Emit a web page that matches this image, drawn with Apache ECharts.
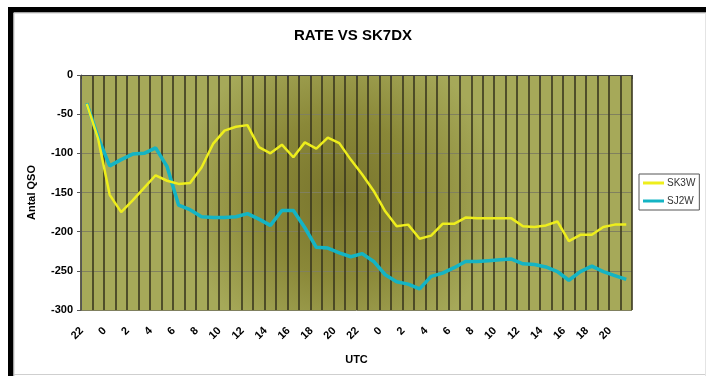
<!DOCTYPE html>
<html>
<head>
<meta charset="utf-8">
<script src="https://cdn.jsdelivr.net/npm/echarts@6/dist/echarts.min.js"></script>
<style>
  html, body { margin: 0; padding: 0; background: #fff; }
  #chart { width: 706px; height: 376px; }
</style>
</head>
<body>
<div id="chart"></div>
<script>
// Hour of day (UTC), one entry per hourly sample over two days
const hours = ['22','23','0','1','2','3','4','5','6','7','8','9','10','11','12','13','14','15','16','17','18','19','20','21',
               '22','23','0','1','2','3','4','5','6','7','8','9','10','11','12','13','14','15','16','17','18','19','20','21'];

// Cumulative QSO difference against SK7DX
const sk3w = [-37, -82, -153, -175, -160, -144, -128, -135, -139, -138, -118, -88, -71, -66, -64,
              -92, -100, -89, -105, -86, -94, -80, -87, -108, -127, -148, -174, -193, -191, -209, -205, -190, -190,
              -182, -183, -183, -183, -183, -193, -194, -192, -187, -212, -204, -204, -194, -191, -191];
const sj2w = [-36, -80, -116, -108, -101, -100, -93, -117, -166, -172, -181, -182, -182, -181, -177, -184, -192,
              -173, -173, -195, -220, -221, -227, -232, -228, -238, -255, -264, -267, -273, -257, -253, -246,
              -238, -238, -237, -236, -235, -241, -242, -245, -251, -262, -251, -244, -251, -256, -261];

const yTicks = { min: -300, max: 0, step: 50 };

const chart = echarts.init(document.getElementById('chart'), null, { renderer: 'canvas' });

const font = 'Liberation Sans, Arial, sans-serif';

chart.setOption({
  animation: false,
  backgroundColor: '#ffffff',
  textStyle: { fontFamily: font },
  title: {
    text: 'RATE VS SK7DX',
    left: 'center',
    top: 23,
    textStyle: { fontSize: 15, fontWeight: 'bold', color: '#000', fontFamily: font }
  },
  legend: {
    orient: 'vertical',
    left: 639,
    top: 174,
    icon: 'rect',
    itemWidth: 21,
    itemHeight: 3,
    itemGap: 8,
    padding: [4, 4, 4, 4],
    borderColor: '#555',
    borderWidth: 1,
    backgroundColor: '#fff',
    textStyle: { fontSize: 10, color: '#333', padding: [0, 0, 0, -2] },
    data: ['SK3W', 'SJ2W']
  },
  grid: {
    left: 81,
    right: 74,
    top: 75,
    bottom: 66,
    show: true,
    borderWidth: 0,
    backgroundColor: new echarts.graphic.RadialGradient(0.47, 0.52, 0.68, [
      { offset: 0, color: '#77732c' },
      { offset: 0.5, color: '#8a8838' },
      { offset: 1, color: '#a6a959' }
    ])
  },
  xAxis: {
    type: 'category',
    data: hours,
    boundaryGap: true,
    name: 'UTC',
    nameLocation: 'middle',
    nameGap: 44,
    nameTextStyle: { fontSize: 11, fontWeight: 'bold', color: '#000' },
    axisLine: { show: true, lineStyle: { color: '#444', width: 1 } },
    axisTick: { show: true, interval: 0, length: 4, lineStyle: { color: '#444' } },
    axisLabel: {
      interval: 1,
      rotate: 45,
      margin: 14,
      padding: [0, 7, 0, 0],
      fontSize: 11,
      fontWeight: 'bold',
      color: '#000'
    },
    splitLine: { show: true, interval: 0, lineStyle: { color: '#3a381f', width: 1.6 } }
  },
  yAxis: {
    type: 'value',
    min: yTicks.min,
    max: yTicks.max,
    interval: yTicks.step,
    name: 'Antal QSO',
    nameLocation: 'middle',
    nameRotate: 90,
    nameGap: 44,
    nameTextStyle: { fontSize: 11, fontWeight: 'bold', color: '#000' },
    axisLine: { show: true, lineStyle: { color: '#555', width: 1 } },
    axisTick: { show: true, length: 4, lineStyle: { color: '#555' } },
    axisLabel: { fontSize: 11, fontWeight: 'bold', color: '#000', margin: 8 },
    splitLine: { show: true, lineStyle: { color: '#80805e', width: 1 } }
  },
  series: [
    {
      name: 'SK3W',
      type: 'line',
      data: sk3w,
      symbol: 'none',
      smooth: false,
      z: 3,
      lineStyle: { color: '#eeee1c', width: 2.5 },
      itemStyle: { color: '#eeee1c' }
    },
    {
      name: 'SJ2W',
      type: 'line',
      data: sj2w,
      symbol: 'none',
      smooth: false,
      z: 2,
      lineStyle: { color: '#14b4c4', width: 3.5 },
      itemStyle: { color: '#14b4c4' }
    }
  ],
  graphic: [
    // page frame: heavy black top and left edges, light grey right and bottom edges
    { type: 'rect', shape: { x: 8, y: 7, width: 698, height: 5.5 }, style: { fill: '#000' }, silent: true },
    { type: 'rect', shape: { x: 8, y: 7, width: 5.5, height: 369 }, style: { fill: '#000' }, silent: true },
    { type: 'line', shape: { x1: 14, y1: 13, x2: 706, y2: 13 }, style: { stroke: '#c8c8c8', lineWidth: 1 }, silent: true },
    { type: 'line', shape: { x1: 14, y1: 13, x2: 14, y2: 376 }, style: { stroke: '#c8c8c8', lineWidth: 1 }, silent: true },
    { type: 'line', shape: { x1: 14, y1: 374.5, x2: 706, y2: 374.5 }, style: { stroke: '#cfcfcf', lineWidth: 1 }, silent: true },
    { type: 'line', shape: { x1: 705.5, y1: 13, x2: 705.5, y2: 376 }, style: { stroke: '#e4e4e4', lineWidth: 1 }, silent: true }
  ]
});
</script>
</body>
</html>
